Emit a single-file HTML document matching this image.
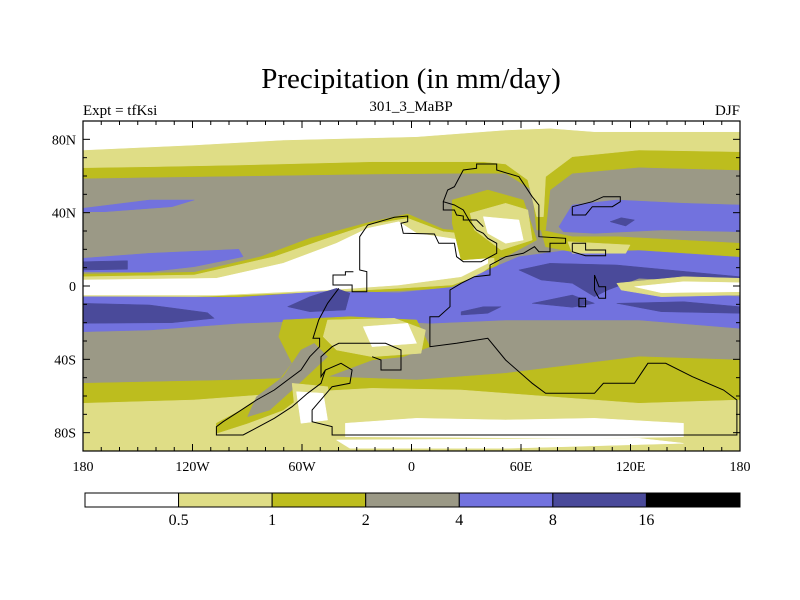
<!DOCTYPE html>
<html><head><meta charset="utf-8">
<style>
body{margin:0;background:#fff;}
svg{display:block;font-family:"Liberation Serif",serif;}
</style></head>
<body>
<svg id="chart" width="800" height="600" viewBox="0 0 800 600">
<defs><clipPath id="plotclip"><rect x="83" y="121" width="657" height="330"/></clipPath></defs>
<text x="411" y="88" text-anchor="middle" font-size="29">Precipitation (in mm/day)</text>
<text x="83" y="115" font-size="15">Expt = tfKsi</text>
<text x="411" y="111" text-anchor="middle" font-size="15">301_3_MaBP</text>
<text x="740" y="115" text-anchor="end" font-size="15">DJF</text>
<g id="fields" clip-path="url(#plotclip)"></g>
<g id="outlines" clip-path="url(#plotclip)"></g>
<rect x="83" y="121" width="657" height="330" fill="none" stroke="#000" stroke-width="1.2"/>
<g id="axes"></g>
<g id="colorbar"></g>
</svg>
<script>
// Colour levels
const levelColors = ["#ffffff","#dfdd86","#bdbd1e","#9b9986","#7272de","#4a4a9a","#000000"];
const levelLabels = ["0.5","1","2","4","8","16"];
const latTicks = [80,40,0,-40,-80];
const latTickLabels = ["80N","40N","0","40S","80S"];
const lonTicks = [-180,-120,-60,0,60,120,180];
const lonTickLabels = ["180","120W","60W","0","60E","120E","180"];

// Contour regions: [levelIndex, points as [lon,lat] in degrees]
const Z = (zx,zy)=>[(zx-50)/4.103-180,(588-zy)/5.5];
const regionsRaw = [
 [3,[[50,93],[1527,93],[1527,1082],[50,1082]]],
 [2,[[50,93],[1527,93],[1527,240],[1300,232],[1150,250],[1100,300],[1090,420],[1070,420],[1060,300],[1000,250],[900,250],[700,252],[400,258],[200,262],[50,265]]],
 [1,[[50,93],[1527,93],[1527,185],[1300,180],[1150,200],[1090,260],[1085,380],[1070,380],[1050,270],[1000,222],[950,215],[700,215],[400,225],[200,230],[50,233]]],
 [0,[[50,93],[1527,93],[1527,125],[1200,125],[1100,115],[1000,120],[800,140],[500,150],[300,165],[50,180]]],
 [4,[[50,355],[200,330],[300,330],[250,350],[100,365],[50,365]]],
 [4,[[50,505],[200,490],[400,478],[410,500],[300,530],[200,545],[50,545]]],
 [5,[[50,515],[150,512],[150,538],[50,540]]],
 [2,[[50,552],[300,547],[450,500],[560,445],[690,398],[780,372],[860,418],[950,428],[990,440],[985,520],[955,560],[900,592],[760,602],[600,612],[300,627],[50,627]]],
 [1,[[50,560],[300,555],[480,500],[600,445],[690,405],[780,385],[860,425],[970,440],[975,520],[940,555],[880,585],[760,595],[600,605],[300,620],[50,620]]],
 [0,[[50,570],[350,565],[500,520],[620,460],[690,415],[760,395],[800,430],[900,450],[960,470],[960,520],[900,560],[760,585],[600,600],[350,615],[50,615]]],
 [4,[[50,620],[400,622],[600,604],[760,608],[880,592],[960,540],[1030,500],[1200,470],[1350,480],[1527,500],[1527,560],[1300,560],[1250,590],[1527,620],[1527,715],[1300,690],[1000,690],[830,700],[700,690],[600,690],[400,700],[200,720],[50,725]]],
 [5,[[50,640],[200,645],[330,668],[345,685],[250,698],[50,700]]],
 [5,[[510,650],[560,620],[620,595],[650,610],[640,660],[560,665]]],
 [5,[[1030,540],[1100,520],[1250,525],[1527,560],[1527,578],[1300,565],[1230,600],[1200,620],[1150,580],[1080,570]]],
 [5,[[1060,640],[1150,615],[1200,640],[1150,652]]],
 [5,[[1250,640],[1400,635],[1527,650],[1527,670],[1350,665]]],
 [5,[[900,665],[950,650],[990,650],[960,670],[900,675]]],
 [1,[[1250,580],[1400,560],[1527,565],[1527,615],[1350,620],[1260,600]]],
 [0,[[1290,590],[1400,575],[1527,578],[1527,605],[1350,608]]],
 [2,[[1080,420],[1150,440],[1250,440],[1527,460],[1527,500],[1300,480],[1150,485],[1090,470]]],
 [1,[[1140,455],[1280,465],[1270,490],[1150,490]]],
 [4,[[1120,410],[1150,345],[1250,330],[1400,340],[1527,345],[1527,425],[1350,420],[1200,430],[1130,425]]],
 [5,[[1235,395],[1260,383],[1290,390],[1270,408]]],
 [2,[[50,880],[400,870],[600,860],[800,870],[1000,850],[1300,800],[1527,810],[1527,1082],[50,1082]]],
 [1,[[50,940],[300,930],[500,910],[700,895],[900,900],[1100,920],[1300,940],[1527,930],[1527,1082],[50,1082]]],
 [0,[[640,1000],[800,985],[1000,990],[1200,985],[1400,1000],[1400,1040],[1200,1045],[640,1040]]],
 [0,[[620,1050],[1300,1045],[1400,1060],[1000,1075],[650,1075]]],
 [2,[[500,690],[650,680],[800,690],[830,770],[770,800],[700,810],[600,860],[560,900],[500,960],[420,1000],[350,1030],[350,1000],[420,950],[480,890],[520,820],[490,740]]],
 [3,[[440,920],[500,860],[540,780],[570,760],[600,800],[520,900],[470,960],[420,980]]],
 [1,[[600,690],[750,685],[820,720],[810,790],[700,800],[620,780],[590,740]]],
 [0,[[680,710],[780,700],[800,760],[700,770]]],
 [1,[[520,880],[600,890],[615,1000],[530,1010]]],
 [0,[[530,905],[590,910],[600,990],[540,1000]]],
 [2,[[880,330],[960,300],[1040,330],[1070,450],[1000,500],[900,510],[880,400]]],
 [1,[[920,370],[1000,340],[1050,360],[1060,450],[990,480],[930,420]]],
 [0,[[950,380],[1030,390],[1040,450],[1000,460],[960,430]]]
];
const outlinesRaw = [
 [[690,405],[750,382],[780,378],[780,395],[765,400],[770,430],[840,432],[850,460],[885,460],[890,500],[905,515],[945,515],[980,490],[980,460],[960,445],[950,430],[935,420],[920,395],[905,360],[885,345],[860,335],[870,300],[885,290],[905,240],[935,235],[935,222],[980,222],[980,240],[1030,260],[1045,290],[1060,320],[1075,345],[1075,440],[1135,445],[1135,460],[1100,460],[1100,485],[1075,485],[1065,470],[1040,490],[1000,500],[965,525],[965,555],[930,560],[900,580],[875,600],[875,650],[850,680],[830,680],[830,770],[890,760],[960,745],[1000,810],[1060,880],[1090,910],[1200,910],[1220,880],[1290,880],[1320,820],[1360,820],[1420,860],[1490,900],[1520,930],[1520,1035],[610,1035],[610,1010],[565,995],[565,960],[610,890],[650,880],[655,840],[630,820],[595,840],[585,860],[585,800],[610,770],[625,760],[730,760],[765,780],[765,840],[720,840],[720,810],[700,800]],
 [[690,405],[672,440],[672,540],[688,545],[688,605],[655,605],[655,585],[612,585],[612,555],[640,555],[640,545],[658,545]],
 [[625,595],[600,640],[580,690],[567,745],[582,745],[582,770],[560,800],[540,840],[510,870],[480,900],[440,930],[400,965],[365,995],[350,1010],[350,1035],[410,1035],[445,1010],[480,985],[520,950],[555,910],[585,880],[595,840]],
 [[1150,460],[1180,460],[1180,480],[1225,480],[1225,497],[1180,497],[1150,485],[1150,460]],
 [[1150,350],[1195,335],[1220,320],[1258,320],[1258,335],[1240,350],[1195,350],[1180,375],[1150,375],[1150,350]],
 [[1200,555],[1210,590],[1225,590],[1225,625],[1210,625],[1200,600],[1200,555]],
 [[1165,625],[1180,625],[1180,650],[1165,650],[1165,625]],
 [[860,335],[860,360],[885,360],[890,375],[905,378],[905,390],[935,390],[950,410]]
];
const regions = regionsRaw.map(r=>[r[0], r[1].map(p=>Z(p[0],p[1]))]);
const outlines = outlinesRaw.map(o=>o.map(p=>Z(p[0],p[1])));

const X0=83,X1=740,YT=121,YB=451;
const xs = lon => X0 + (lon+180)/360*(X1-X0);
const ys = lat => YT + (90-lat)/180*(YB-YT);
const NS="http://www.w3.org/2000/svg";
const mk=(t,a,p)=>{const e=document.createElementNS(NS,t);for(const k in a)e.setAttribute(k,a[k]);p.appendChild(e);return e;};

const fields=document.getElementById('fields');
regions.forEach((r,i)=>{
  const pts=r[1].map(p=>xs(p[0]).toFixed(1)+","+ys(p[1]).toFixed(1)).join(" ");
  const el=mk('polygon',{points:pts,fill:levelColors[r[0]],stroke:levelColors[r[0]],'stroke-width':0.5},fields);
  
  
});
const ol=document.getElementById('outlines');
outlines.forEach(o=>{
  const pts=o.map(p=>xs(p[0]).toFixed(1)+","+ys(p[1]).toFixed(1)).join(" ");
  const el=mk('polyline',{points:pts,fill:'none',stroke:'#000','stroke-width':1},ol);
  
  
});

const ax=document.getElementById('axes');
for(let lat=-90;lat<=90;lat+=10){
  const major=latTicks.includes(lat), L=major?7:4, y=ys(lat);
  mk('line',{x1:X0,y1:y,x2:X0+L,y2:y,stroke:'#000'},ax);
  mk('line',{x1:X1,y1:y,x2:X1-L,y2:y,stroke:'#000'},ax);
}
for(let lon=-180;lon<=180;lon+=10){
  const major=lonTicks.includes(lon), L=major?7:4, x=xs(lon);
  mk('line',{x1:x,y1:YT,x2:x,y2:YT+L,stroke:'#000'},ax);
  mk('line',{x1:x,y1:YB,x2:x,y2:YB-L,stroke:'#000'},ax);
}
latTicks.forEach((lat,i)=>{
  const t=mk('text',{x:76,y:ys(lat)+5,'text-anchor':'end','font-size':14},ax);
  t.textContent=latTickLabels[i];
  
  
});
lonTicks.forEach((lon,i)=>{
  const t=mk('text',{x:xs(lon),y:471,'text-anchor':'middle','font-size':14},ax);
  t.textContent=lonTickLabels[i];
  
  
});

const cb=document.getElementById('colorbar');
const CB0=85,CB1=740,CBY=493,CBH=14,bw=(CB1-CB0)/levelColors.length;
levelColors.forEach((c,i)=>{
  const r=mk('rect',{x:CB0+i*bw,y:CBY,width:bw,height:CBH,fill:c,stroke:'#000','stroke-width':1},cb);
  
  
});
levelLabels.forEach((l,i)=>{
  const t=mk('text',{x:CB0+(i+1)*bw,y:525,'text-anchor':'middle','font-size':16},cb);
  t.textContent=l;
  
  
});
</script>
</body></html>
